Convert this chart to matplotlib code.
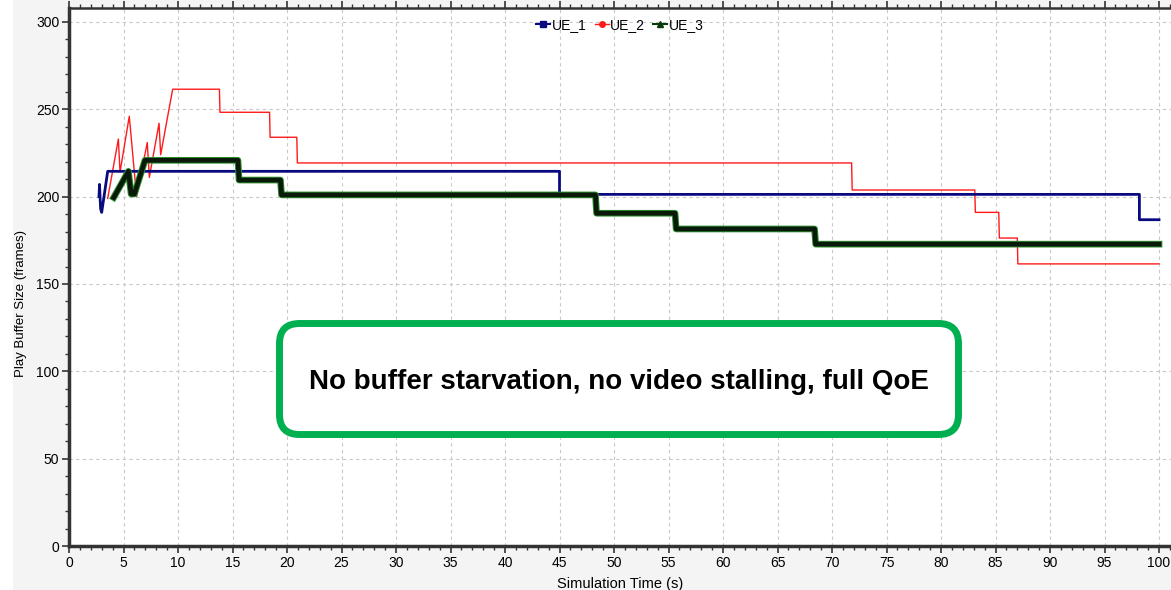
import numpy as np
import matplotlib
matplotlib.use("Agg")
import matplotlib.pyplot as plt
import matplotlib.patheffects as pe
from matplotlib.lines import Line2D
from matplotlib.patches import FancyBboxPatch, Rectangle
from matplotlib.ticker import MultipleLocator

plt.rcParams['font.family'] = ['Liberation Sans', 'DejaVu Sans']

# UE_1 (navy)
ue1_t = [2.75, 2.8, 2.9, 3.0, 3.55, 45.0, 45.0, 98.2, 98.2, 100.0]
ue1_b = [200, 207, 193, 191, 214.5, 214.5, 201.3, 201.3, 186.8, 186.8]

# UE_2 (red)
ue2_t = [3.55, 4.53, 4.68, 5.53, 6.2, 7.18, 7.37, 8.26, 8.41, 9.51, 13.8, 13.85,
         18.4, 18.45, 20.9, 20.95, 71.8, 71.85, 83.1, 83.15, 85.3, 85.35, 87.0, 87.05, 100.0]
ue2_b = [199, 233, 214, 246, 200, 231, 211, 242, 224, 261.5, 261.5, 248.3,
         248.3, 234, 234, 219.3, 219.3, 203.8, 203.8, 191, 191, 176.3, 176.3, 161.5, 161.5]

# UE_3 (dark green)
ue3_t = [4.1, 5.45, 5.7, 6.0, 6.97, 15.5, 15.6, 19.4, 19.5, 48.3, 48.4,
         55.6, 55.7, 68.4, 68.5, 100.0]
ue3_b = [199.5, 214.5, 201.5, 201.5, 220.8, 220.8, 209.5, 209.5, 201.0, 201.0, 190.5,
         190.5, 181.5, 181.5, 172.8, 172.8]

W, H = 1171, 590
fig = plt.figure(figsize=(W / 100, H / 100), dpi=100, facecolor='#f4f4f4')
fig.add_artist(Rectangle((0, 0), 13 / W, 1, transform=fig.transFigure,
                         facecolor='white', edgecolor='none', zorder=-5))

ax = fig.add_axes([69 / W, 44 / H, (W - 69) / W, 538 / H])
ax.set_facecolor('white')

ax.plot(ue1_t, ue1_b, color='#0a0a80', lw=2.0, zorder=4)
ax.plot(ue2_t, ue2_b, color='#ff1a1a', lw=1.0, zorder=3)
ax.plot(ue3_t, ue3_b, color='#0a1a0a', lw=3.4, zorder=5,
        path_effects=[pe.Stroke(linewidth=4.8, foreground='#2f8f2f'), pe.Normal()])

ax.set_xlim(0, 101.1)
ax.set_ylim(0, 308)
ax.xaxis.set_major_locator(MultipleLocator(5))
ax.xaxis.set_minor_locator(MultipleLocator(1))
ax.yaxis.set_major_locator(MultipleLocator(50))
ax.yaxis.set_minor_locator(MultipleLocator(10))

ax.grid(True, which='major', color='#c8c8c8', linestyle=(0, (3, 3)), linewidth=0.8)
ax.set_axisbelow(True)

for side in ['left', 'bottom']:
    ax.spines[side].set_linewidth(2.5)
    ax.spines[side].set_color('#333333')
ax.spines['top'].set_linewidth(1.8)
ax.spines['top'].set_color('#333333')
ax.spines['right'].set_visible(False)

ax.tick_params(axis='both', which='major', length=5, width=1.2, color='#333333',
               labelsize=10, pad=2)
ax.tick_params(axis='both', which='minor', length=3, width=1.0, color='#333333')
ax.tick_params(axis='x', top=True, which='both', direction='out')

ax.set_xlabel('Simulation Time (s)', fontsize=10.5, labelpad=5)
ax.set_ylabel('Play Buffer Size (frames)', fontsize=9.5)
ax.yaxis.set_label_coords(-42 / (W - 69), 0.45)

handles = [
    Line2D([], [], color='#0a0a80', lw=1.5, marker='s', markersize=4),
    Line2D([], [], color='#ff1a1a', lw=1.0, marker='o', markersize=4),
    Line2D([], [], color='#0a3a0a', lw=1.5, marker='^', markersize=5),
]
fig.legend(handles, ['UE_1', 'UE_2', 'UE_3'], loc='center', ncol=3,
           bbox_to_anchor=(620 / W, 1 - 25 / H), frameon=False, fontsize=10,
           handlelength=1.0, handletextpad=0.1, columnspacing=0.6, borderaxespad=0)

# annotation box (pixel-based, via inches)
box = FancyBboxPatch((2.795, 1.555), 6.79, 1.11,
                     boxstyle='round,pad=0,rounding_size=0.2',
                     transform=fig.dpi_scale_trans, facecolor='white',
                     edgecolor='#00b050', linewidth=5, zorder=10)
fig.add_artist(box)
fig.text(619 / W, 1 - 382 / H, 'No buffer starvation, no video stalling, full QoE',
         ha='center', va='center', fontsize=20, fontweight='bold', zorder=11)

fig.savefig('out.png', dpi=100, facecolor=fig.get_facecolor())
